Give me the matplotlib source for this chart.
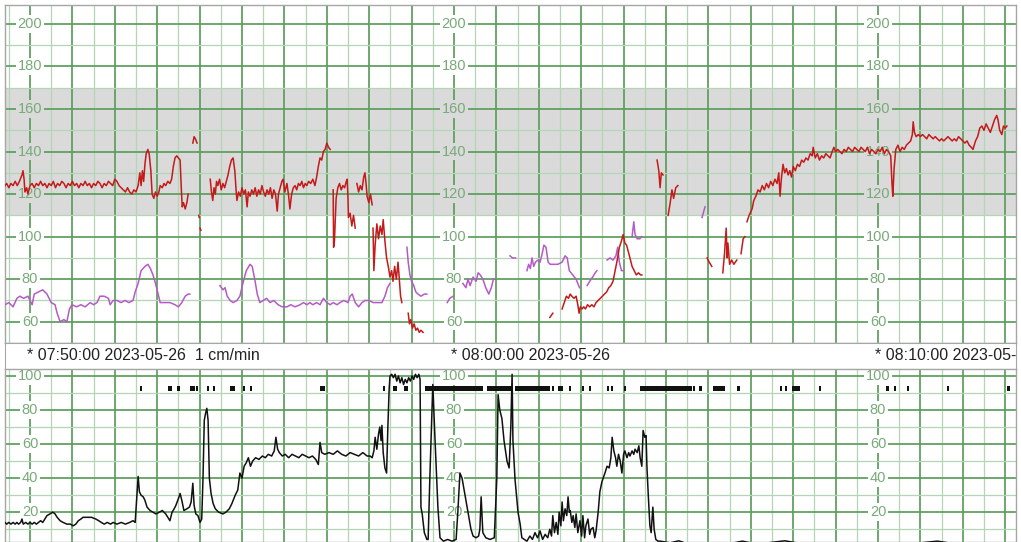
import numpy as np
import matplotlib
matplotlib.use("Agg")
import matplotlib.pyplot as plt
from matplotlib.ticker import MultipleLocator

nan = np.nan
plt.rcParams['font.family'] = ['Liberation Sans', 'DejaVu Sans']

# ---------------- data (time in minutes after 07:50:00) ----------------
fhr = [
    (-0.59, 124), (-0.55, 125), (-0.50, 123), (-0.45, 125), (-0.40, 124), (-0.35, 126), (-0.30, 124),
    (-0.25, 126), (-0.19, 129), (-0.165, 131), (-0.14, 127), (-0.12, 121), (-0.08, 123), (-0.05, 120),
    (0.00, 124), (0.05, 125), (0.10, 123), (0.15, 125), (0.20, 124), (0.25, 126), (0.30, 124), (0.35, 125),
    (0.40, 123), (0.45, 125), (0.50, 124), (0.55, 126), (0.60, 123), (0.65, 125), (0.70, 124), (0.75, 126),
    (0.80, 125), (0.85, 123), (0.90, 125), (0.95, 124), (1.00, 126), (1.05, 124), (1.10, 125), (1.15, 123),
    (1.20, 125), (1.25, 124), (1.30, 126), (1.35, 124), (1.40, 125), (1.45, 123), (1.50, 125), (1.55, 124),
    (1.60, 126), (1.65, 125), (1.70, 123), (1.75, 125), (1.80, 124), (1.85, 126), (1.90, 125), (1.95, 124),
    (2.00, 127), (2.05, 126), (2.10, 124), (2.15, 123), (2.20, 122), (2.25, 121), (2.30, 123), (2.35, 121),
    (2.40, 120), (2.45, 122), (2.50, 121), (2.55, 124), (2.59, 130), (2.62, 124), (2.65, 131), (2.68, 126),
    (2.71, 134), (2.74, 139), (2.78, 141), (2.81, 139), (2.85, 131), (2.88, 120), (2.92, 118), (2.96, 121),
    (3.00, 119), (3.04, 121), (3.07, 124), (3.12, 123), (3.16, 125), (3.20, 124), (3.25, 126), (3.30, 125),
    (3.34, 127), (3.38, 133), (3.42, 137), (3.46, 138), (3.50, 137), (3.54, 136), (3.57, 122), (3.59, 114),
    (3.62, 116), (3.66, 113), (3.70, 116), (3.73, 120), (3.74, nan),
    (3.84, 144), (3.87, 147), (3.90, 146), (3.94, 144), (3.95, nan),
    (3.98, 110), (3.99, 109), (4.00, nan),
    (4.01, 104), (4.03, 103), (4.04, nan),
    (4.25, 127), (4.28, 121), (4.31, 117), (4.34, 123), (4.37, 120), (4.40, 126), (4.43, 124), (4.47, 127),
    (4.51, 122), (4.55, 125), (4.59, 123), (4.63, 126), (4.67, 129), (4.71, 133), (4.75, 136), (4.79, 137),
    (4.83, 131), (4.86, 122), (4.88, 117), (4.92, 121), (4.96, 119), (5.00, 123), (5.04, 120), (5.08, 122),
    (5.12, 114), (5.15, 121), (5.19, 119), (5.23, 122), (5.27, 120), (5.31, 123), (5.35, 119), (5.39, 122),
    (5.43, 120), (5.47, 124), (5.51, 121), (5.55, 119), (5.59, 122), (5.63, 120), (5.67, 123), (5.71, 118),
    (5.75, 122), (5.79, 120), (5.83, 112), (5.86, 120), (5.90, 123), (5.94, 126), (5.97, 127), (6.01, 121),
    (6.06, 125), (6.10, 119), (6.13, 113), (6.17, 120), (6.21, 123), (6.25, 124), (6.29, 122), (6.33, 125),
    (6.37, 124), (6.41, 126), (6.45, 123), (6.49, 125), (6.53, 124), (6.57, 126), (6.62, 125), (6.67, 127),
    (6.72, 124), (6.76, 128), (6.80, 133), (6.84, 137), (6.88, 136), (6.92, 140), (6.96, 141), (7.00, 144),
    (7.04, 142), (7.08, 141), (7.10, nan),
    (7.15, 122), (7.16, 95), (7.18, 98), (7.20, 108), (7.22, 118), (7.26, 123), (7.30, 125), (7.34, 122),
    (7.38, 124), (7.42, 123), (7.46, 126), (7.48, 127), (7.50, 118), (7.51, 109), (7.55, 111), (7.59, 105),
    (7.63, 110), (7.67, 104), (7.68, nan),
    (7.71, 125), (7.75, 121), (7.79, 124), (7.83, 122), (7.87, 128), (7.90, 130), (7.93, 124), (7.95, 119),
    (7.99, 116), (8.03, 120), (8.07, 115), (8.08, nan),
    (8.09, 104), (8.11, 84), (8.14, 96), (8.18, 106), (8.22, 99), (8.26, 105), (8.30, 101), (8.33, 108),
    (8.37, 98), (8.41, 90), (8.45, 86), (8.49, 81), (8.53, 84), (8.56, 79), (8.60, 86), (8.64, 80),
    (8.68, 88), (8.71, 80), (8.74, 72), (8.77, 69), (8.78, nan),
    (8.92, 64), (8.95, 59), (8.98, 61), (9.02, 57), (9.06, 59), (9.10, 56), (9.14, 57), (9.18, 55),
    (9.22, 56), (9.27, 55), (9.28, nan),
    (12.26, 62), (12.33, 64), (12.34, nan),
    (12.55, 66), (12.60, 69), (12.65, 72), (12.70, 71), (12.74, 73), (12.78, 72), (12.83, 71), (12.88, 72),
    (12.92, 68), (12.95, 64), (12.98, 67), (13.02, 66), (13.06, 67), (13.10, 66), (13.15, 68), (13.20, 67),
    (13.25, 68), (13.30, 67), (13.35, 69), (13.40, 70), (13.45, 71), (13.50, 72), (13.55, 73), (13.60, 74),
    (13.65, 76), (13.70, 77), (13.75, 79), (13.80, 84), (13.85, 89), (13.90, 95), (13.95, 98), (13.99, 101),
    (14.03, 97), (14.07, 96), (14.11, 93), (14.15, 90), (14.20, 86), (14.25, 84), (14.30, 82), (14.35, 83),
    (14.40, 82), (14.43, 82), (14.44, nan),
    (14.79, 136), (14.83, 131), (14.86, 123), (14.89, 130), (14.93, 129), (14.94, nan),
    (15.05, 110), (15.10, 116), (15.14, 122), (15.18, 118), (15.23, 123), (15.28, 124), (15.29, nan),
    (15.97, 90), (16.02, 88), (16.08, 86), (16.09, nan),
    (16.34, 83), (16.38, 92), (16.42, 104), (16.44, 90), (16.46, 97), (16.50, 87), (16.55, 89), (16.60, 87),
    (16.67, 89), (16.68, nan),
    (16.77, 92), (16.82, 99), (16.86, 100), (16.87, nan),
    (16.91, 107), (16.96, 110), (17.03, 113), (17.07, 117), (17.12, 119), (17.17, 122), (17.22, 121),
    (17.27, 124), (17.32, 122), (17.37, 125), (17.42, 123), (17.47, 126), (17.52, 124), (17.57, 127),
    (17.62, 125), (17.66, 130), (17.69, 119), (17.72, 127), (17.76, 134), (17.80, 130), (17.84, 132),
    (17.88, 129), (17.92, 131), (17.96, 128), (18.00, 133), (18.05, 131), (18.10, 134), (18.15, 133),
    (18.20, 136), (18.25, 135), (18.30, 137), (18.35, 136), (18.40, 139), (18.45, 138), (18.47, 142),
    (18.52, 137), (18.57, 139), (18.62, 136), (18.67, 138), (18.72, 137), (18.77, 139), (18.82, 138),
    (18.87, 137), (18.92, 140), (18.96, 142), (19.00, 140), (19.05, 141), (19.10, 140), (19.15, 139),
    (19.20, 141), (19.25, 140), (19.30, 142), (19.35, 141), (19.40, 140), (19.45, 142), (19.50, 141),
    (19.55, 140), (19.60, 142), (19.65, 141), (19.70, 140), (19.75, 142), (19.80, 139), (19.85, 141),
    (19.90, 140), (19.95, 139), (20.00, 141), (20.05, 140), (20.10, 142), (20.15, 139), (20.20, 141),
    (20.25, 140), (20.30, 138), (20.33, 125), (20.35, 119), (20.38, 132), (20.42, 141), (20.47, 143),
    (20.52, 140), (20.57, 142), (20.62, 141), (20.67, 143), (20.72, 144), (20.77, 145), (20.81, 148),
    (20.83, 154), (20.86, 149), (20.90, 147), (20.95, 148), (21.00, 147), (21.05, 148), (21.10, 147),
    (21.15, 146), (21.20, 148), (21.25, 147), (21.30, 146), (21.35, 147), (21.40, 146), (21.45, 145),
    (21.50, 146), (21.55, 145), (21.60, 146), (21.65, 147), (21.70, 146), (21.75, 145), (21.80, 146),
    (21.85, 145), (21.90, 147), (21.95, 146), (22.00, 145), (22.05, 144), (22.10, 145), (22.15, 143),
    (22.20, 142), (22.24, 141), (22.30, 145), (22.35, 147), (22.40, 151), (22.45, 152), (22.50, 150),
    (22.55, 153), (22.60, 151), (22.65, 149), (22.70, 152), (22.75, 155), (22.80, 157), (22.83, 155),
    (22.87, 150), (22.92, 148), (22.96, 152), (23.00, 151), (23.04, 152),
]

mhr = [
    (-0.59, 68), (-0.50, 69), (-0.40, 67), (-0.31, 71), (-0.24, 72), (-0.15, 71), (-0.05, 72), (0.00, 70),
    (0.05, 68), (0.10, 73), (0.20, 74), (0.30, 75), (0.40, 73), (0.45, 71), (0.50, 69), (0.59, 68),
    (0.64, 64), (0.71, 60), (0.80, 61), (0.87, 60), (0.93, 66), (0.99, 68), (1.10, 67), (1.20, 68),
    (1.30, 67), (1.42, 69), (1.50, 68), (1.58, 69), (1.65, 72), (1.75, 72), (1.85, 71), (1.89, 68),
    (1.96, 70), (2.05, 70), (2.15, 69), (2.24, 70), (2.33, 69), (2.43, 70), (2.48, 74), (2.55, 78),
    (2.62, 84), (2.71, 86), (2.78, 87), (2.84, 85), (2.90, 82), (2.96, 78), (3.02, 73), (3.07, 69),
    (3.18, 69), (3.30, 69), (3.42, 68), (3.50, 67), (3.58, 69), (3.66, 72), (3.73, 73), (3.77, 73),
    (3.78, nan),
    (4.48, 77), (4.55, 75), (4.60, 76), (4.65, 72), (4.72, 70), (4.79, 69), (4.88, 70), (4.95, 72),
    (5.02, 78), (5.10, 84), (5.19, 87), (5.24, 86), (5.30, 80), (5.36, 73), (5.42, 69), (5.50, 70),
    (5.58, 71), (5.66, 69), (5.75, 70), (5.85, 68), (5.95, 67), (6.06, 67), (6.15, 68), (6.25, 67),
    (6.37, 68), (6.45, 69), (6.53, 68), (6.60, 69), (6.67, 68), (6.76, 69), (6.84, 68), (6.92, 71),
    (7.00, 69), (7.08, 68), (7.15, 69), (7.24, 68), (7.31, 69), (7.40, 70), (7.50, 69), (7.55, 72),
    (7.60, 73), (7.67, 69), (7.75, 67), (7.83, 69), (7.90, 70), (8.00, 70), (8.09, 69), (8.20, 69),
    (8.30, 69), (8.37, 72), (8.43, 76), (8.49, 78), (8.50, nan),
    (8.89, 95), (8.92, 88), (8.96, 82), (9.00, 79), (9.05, 77), (9.10, 74), (9.15, 73), (9.22, 72),
    (9.30, 73), (9.36, 73), (9.37, nan),
    (9.84, 69), (9.90, 71), (9.98, 72), (9.99, nan),
    (10.21, 78), (10.28, 76), (10.33, 80), (10.38, 77), (10.45, 81), (10.52, 79), (10.57, 83), (10.62, 82),
    (10.68, 80), (10.75, 76), (10.82, 73), (10.88, 76), (10.93, 80), (10.97, 80), (10.98, nan),
    (11.32, 91), (11.38, 90), (11.45, 90), (11.46, nan),
    (11.72, 84), (11.76, 87), (11.80, 85), (11.84, 90), (11.88, 86), (11.92, 88), (11.98, 89), (12.03, 88),
    (12.08, 92), (12.12, 96), (12.17, 95), (12.22, 88), (12.27, 87), (12.35, 87), (12.45, 87), (12.55, 88),
    (12.62, 91), (12.67, 90), (12.72, 84), (12.80, 82), (12.88, 80), (12.92, 78), (12.96, 76), (12.97, nan),
    (13.14, 77), (13.20, 79), (13.27, 81), (13.33, 83), (13.37, 84), (13.38, nan),
    (13.61, 89), (13.68, 90), (13.75, 89), (13.82, 91), (13.86, 95), (13.90, 88), (13.95, 84), (13.99, 84),
    (14.00, nan),
    (14.20, 100), (14.24, 107), (14.27, 101), (14.32, 99), (14.38, 99), (14.43, 100), (14.44, nan),
    (15.85, 109), (15.92, 114),
]

toco = [
    (-0.59, 14), (-0.55, 13), (-0.50, 14), (-0.45, 13), (-0.40, 14), (-0.35, 13), (-0.31, 14), (-0.27, 13),
    (-0.22, 14), (-0.19, 16), (-0.16, 13), (-0.10, 14), (-0.05, 13), (0.00, 14), (0.05, 13), (0.10, 14),
    (0.15, 13), (0.20, 14), (0.25, 15), (0.30, 14), (0.35, 16), (0.40, 18), (0.47, 19), (0.54, 20),
    (0.59, 19), (0.64, 17), (0.71, 15), (0.78, 14), (0.87, 13), (0.95, 13), (1.02, 12), (1.08, 13),
    (1.14, 15), (1.20, 16), (1.25, 17), (1.35, 17), (1.45, 17), (1.55, 16), (1.62, 15), (1.68, 14),
    (1.75, 13), (1.82, 14), (1.90, 13), (1.96, 14), (2.05, 13), (2.15, 14), (2.25, 13), (2.35, 14),
    (2.43, 15), (2.48, 14), (2.52, 30), (2.55, 41), (2.58, 32), (2.62, 30), (2.67, 29), (2.71, 27),
    (2.76, 23), (2.83, 21), (2.90, 20), (2.97, 19), (3.05, 20), (3.12, 21), (3.20, 19), (3.25, 17),
    (3.30, 15), (3.35, 20), (3.40, 22), (3.44, 24), (3.50, 28), (3.54, 31), (3.58, 27), (3.63, 21),
    (3.70, 22), (3.76, 23), (3.80, 26), (3.84, 37), (3.87, 24), (3.91, 19), (3.96, 18), (4.01, 14),
    (4.05, 16), (4.08, 40), (4.11, 74), (4.14, 78), (4.17, 81), (4.20, 74), (4.23, 40), (4.27, 31),
    (4.32, 25), (4.37, 22), (4.45, 20), (4.55, 19), (4.62, 20), (4.70, 22), (4.76, 25), (4.84, 30),
    (4.90, 33), (4.95, 43), (5.00, 40), (5.05, 47), (5.10, 49), (5.15, 52), (5.20, 47), (5.25, 50),
    (5.32, 52), (5.40, 51), (5.48, 53), (5.55, 52), (5.62, 54), (5.70, 53), (5.76, 56), (5.80, 64),
    (5.84, 57), (5.88, 55), (5.95, 53), (6.02, 54), (6.10, 52), (6.18, 54), (6.26, 53), (6.34, 52),
    (6.42, 54), (6.50, 53), (6.58, 52), (6.66, 53), (6.74, 51), (6.80, 48), (6.84, 61), (6.88, 55),
    (6.95, 54), (7.05, 55), (7.15, 54), (7.25, 56), (7.35, 54), (7.45, 53), (7.55, 55), (7.65, 54),
    (7.75, 53), (7.85, 55), (7.95, 53), (8.02, 53), (8.07, 52), (8.11, 56), (8.14, 64), (8.18, 57),
    (8.22, 66), (8.25, 70), (8.28, 62), (8.30, 71), (8.33, 55), (8.37, 46), (8.41, 43), (8.44, 70),
    (8.47, 92), (8.49, 100), (8.53, 101), (8.57, 99), (8.61, 101), (8.65, 97), (8.69, 100), (8.73, 96),
    (8.77, 99), (8.81, 95), (8.85, 98), (8.89, 96), (8.93, 99), (8.97, 97), (9.01, 100), (9.05, 98),
    (9.09, 101), (9.13, 99), (9.17, 101), (9.20, 98), (9.22, 23), (9.25, 19), (9.30, 8), (9.36, 4),
    (9.39, 4), (9.43, 40), (9.50, 95), (9.55, 64), (9.62, 23), (9.67, 5), (9.75, 3), (9.85, 4),
    (9.95, 3), (10.05, 4), (10.09, 20), (10.14, 43), (10.19, 40), (10.26, 30), (10.33, 20), (10.40, 10),
    (10.45, 6), (10.52, 5), (10.58, 6), (10.61, 10), (10.64, 29), (10.68, 8), (10.75, 5), (10.85, 4),
    (10.95, 5), (11.01, 40), (11.04, 89), (11.08, 80), (11.13, 75), (11.18, 62), (11.25, 50), (11.30, 46),
    (11.34, 70), (11.37, 101), (11.39, 62), (11.44, 39), (11.51, 20), (11.56, 13), (11.60, 5), (11.66, 4),
    (11.72, 3), (11.79, 6), (11.85, 4), (11.91, 8), (11.97, 5), (12.03, 9), (12.09, 4), (12.15, 7),
    (12.21, 5), (12.26, 10), (12.30, 6), (12.33, 18), (12.37, 8), (12.41, 14), (12.45, 7), (12.48, 20),
    (12.52, 12), (12.55, 26), (12.58, 15), (12.62, 22), (12.66, 18), (12.69, 29), (12.72, 20), (12.74, 21),
    (12.78, 14), (12.81, 18), (12.85, 11), (12.88, 19), (12.92, 8), (12.97, 15), (13.01, 6), (13.04, 18),
    (13.08, 5), (13.11, 12), (13.16, 16), (13.20, 7), (13.23, 10), (13.28, 11), (13.32, 5), (13.35, 9),
    (13.40, 20), (13.44, 32), (13.49, 38), (13.56, 43), (13.61, 47), (13.66, 46), (13.70, 52), (13.73, 64),
    (13.77, 56), (13.81, 52), (13.84, 47), (13.88, 54), (13.92, 50), (13.96, 43), (14.00, 54), (14.03, 56),
    (14.08, 52), (14.12, 55), (14.15, 53), (14.20, 56), (14.24, 54), (14.27, 57), (14.32, 55), (14.36, 59),
    (14.39, 52), (14.43, 47), (14.46, 68), (14.50, 64), (14.53, 65), (14.55, 47), (14.58, 31), (14.62, 12),
    (14.65, 8), (14.69, 23), (14.72, 10), (14.76, 4), (14.81, 3), (14.86, 3), (15.10, 2), (15.30, 3.2),
    (15.50, 1.5), (15.70, 2), (16.00, 1.5), (16.20, 2), (16.50, 1.5), (16.80, 3), (17.10, 1.5), (17.40, 2),
    (17.80, 3.2), (18.20, 1.5), (18.60, 2), (19.00, 1.5), (19.40, 2), (19.80, 1.5), (20.20, 2), (20.60, 1.5),
    (21.00, 2), (21.40, 3), (21.80, 1.5), (22.20, 2), (22.60, 1.5), (23.00, 2), (23.25, 1.5),
]

move_start = [2.59, 3.25, 3.47, 3.77, 3.92, 4.17, 4.31, 4.72, 5.02, 5.19, 6.84, 8.33, 8.56, 8.82,
              9.32, 10.78, 11.44, 12.31, 12.45, 12.71, 13.02, 13.18, 13.61, 13.70, 14.01, 14.39,
              15.64, 15.78, 16.11, 16.67, 17.69, 17.81, 17.97, 18.61, 20.19, 20.38, 20.68, 21.63, 23.04]
move_end = [2.64, 3.35, 3.54, 3.89, 3.96, 4.22, 4.36, 4.83, 5.07, 5.24, 6.96, 8.37, 8.66, 8.92,
            10.68, 11.39, 12.26, 12.36, 12.57, 12.76, 13.07, 13.23, 13.66, 13.75, 14.06, 15.61,
            15.68, 15.85, 16.39, 16.75, 17.74, 17.85, 18.16, 18.66, 20.26, 20.42, 20.73, 21.67, 23.11]

stamp_min = [0, 10, 20]
stamp_text = ["* 07:50:00 2023-05-26  1 cm/min", "* 08:00:00 2023-05-26", "* 08:10:00 2023-05-26"]
hr_ticks = [60, 80, 100, 120, 140, 160, 180, 200]
uc_ticks = [20, 40, 60, 80, 100]
normal_band = (110, 170)

# ---------------- styling ----------------
W, H = 1021, 542
MAJ = '#5c9e5c'
MIN = '#b4d6b4'
LAB = '#78aa78'
BAND = '#dadada'
EDGE = '#a6a6a6'
XLIM = (-0.59, 23.255)

fig = plt.figure(figsize=(W / 100, H / 100), dpi=100)
fig.patch.set_facecolor('white')

def px_rect(x0, y0, x1, y1):
    return [x0 / W, 1 - y1 / H, (x1 - x0) / W, (y1 - y0) / H]

ax1 = fig.add_axes(px_rect(5, 5, 1016, 343))
axt = fig.add_axes(px_rect(5, 343, 1016, 369))
ax2 = fig.add_axes(px_rect(5, 369, 1016, 542))

def style_grid(ax, ymaj, ymin):
    ax.set_xlim(*XLIM)
    ax.xaxis.set_major_locator(MultipleLocator(1))
    ax.xaxis.set_minor_locator(MultipleLocator(0.5))
    ax.yaxis.set_major_locator(MultipleLocator(ymaj))
    ax.yaxis.set_minor_locator(MultipleLocator(ymin))
    ax.grid(which='minor', color=MIN, lw=0.9, zorder=1)
    ax.grid(which='major', color=MAJ, lw=1.25, zorder=1)
    ax.set_axisbelow(True)
    ax.tick_params(which='both', length=0, labelbottom=False, labelleft=False)
    for s in ax.spines.values():
        s.set_color(EDGE)
        s.set_linewidth(1.0)

# top panel
ax1.set_ylim(50, 208.9)
style_grid(ax1, 20, 10)
ax1.axhspan(*normal_band, color=BAND, zorder=0, lw=0)
ft, fv = zip(*fhr)
mt, mv = zip(*mhr)
ax1.plot(mt, mv, color='#b55ac6', lw=1.1, zorder=3)
ax1.plot(ft, fv, color='#c41a1a', lw=1.1, zorder=4)
for xm in stamp_min:
    for v in hr_ticks:
        bg = BAND if normal_band[0] < v < normal_band[1] else 'white'
        ax1.text(xm, v, str(v), ha='center', va='center', fontsize=10.5, color=LAB, zorder=2,
                 bbox=dict(boxstyle='square,pad=0.12', fc=bg, ec='none'))

# text band
axt.set_xlim(*XLIM)
axt.set_ylim(0, 1)
axt.set_xticks([])
axt.set_yticks([])
for s in axt.spines.values():
    s.set_color(EDGE)
for xm, txt in zip(stamp_min, stamp_text):
    axt.text(xm - 0.06, 0.5, txt, ha='left', va='center', fontsize=11.5, color='#222222', clip_on=True)

# bottom panel
ax2.set_ylim(2.5, 104.1)
style_grid(ax2, 20, 10)
tt, tv = zip(*toco)
ax2.plot(tt, tv, color='#111111', lw=1.1, zorder=4)
ax2.broken_barh([(s, e - s) for s, e in zip(move_start, move_end)], (91.2, 3.0),
                facecolors='#111111', zorder=4)
for xm in stamp_min:
    for v in uc_ticks:
        ax2.text(xm, v, str(v), ha='center', va='center', fontsize=10.5, color=LAB, zorder=2,
                 bbox=dict(boxstyle='square,pad=0.12', fc='white', ec='none'))

fig.savefig('out.png', dpi=100, facecolor='white')
